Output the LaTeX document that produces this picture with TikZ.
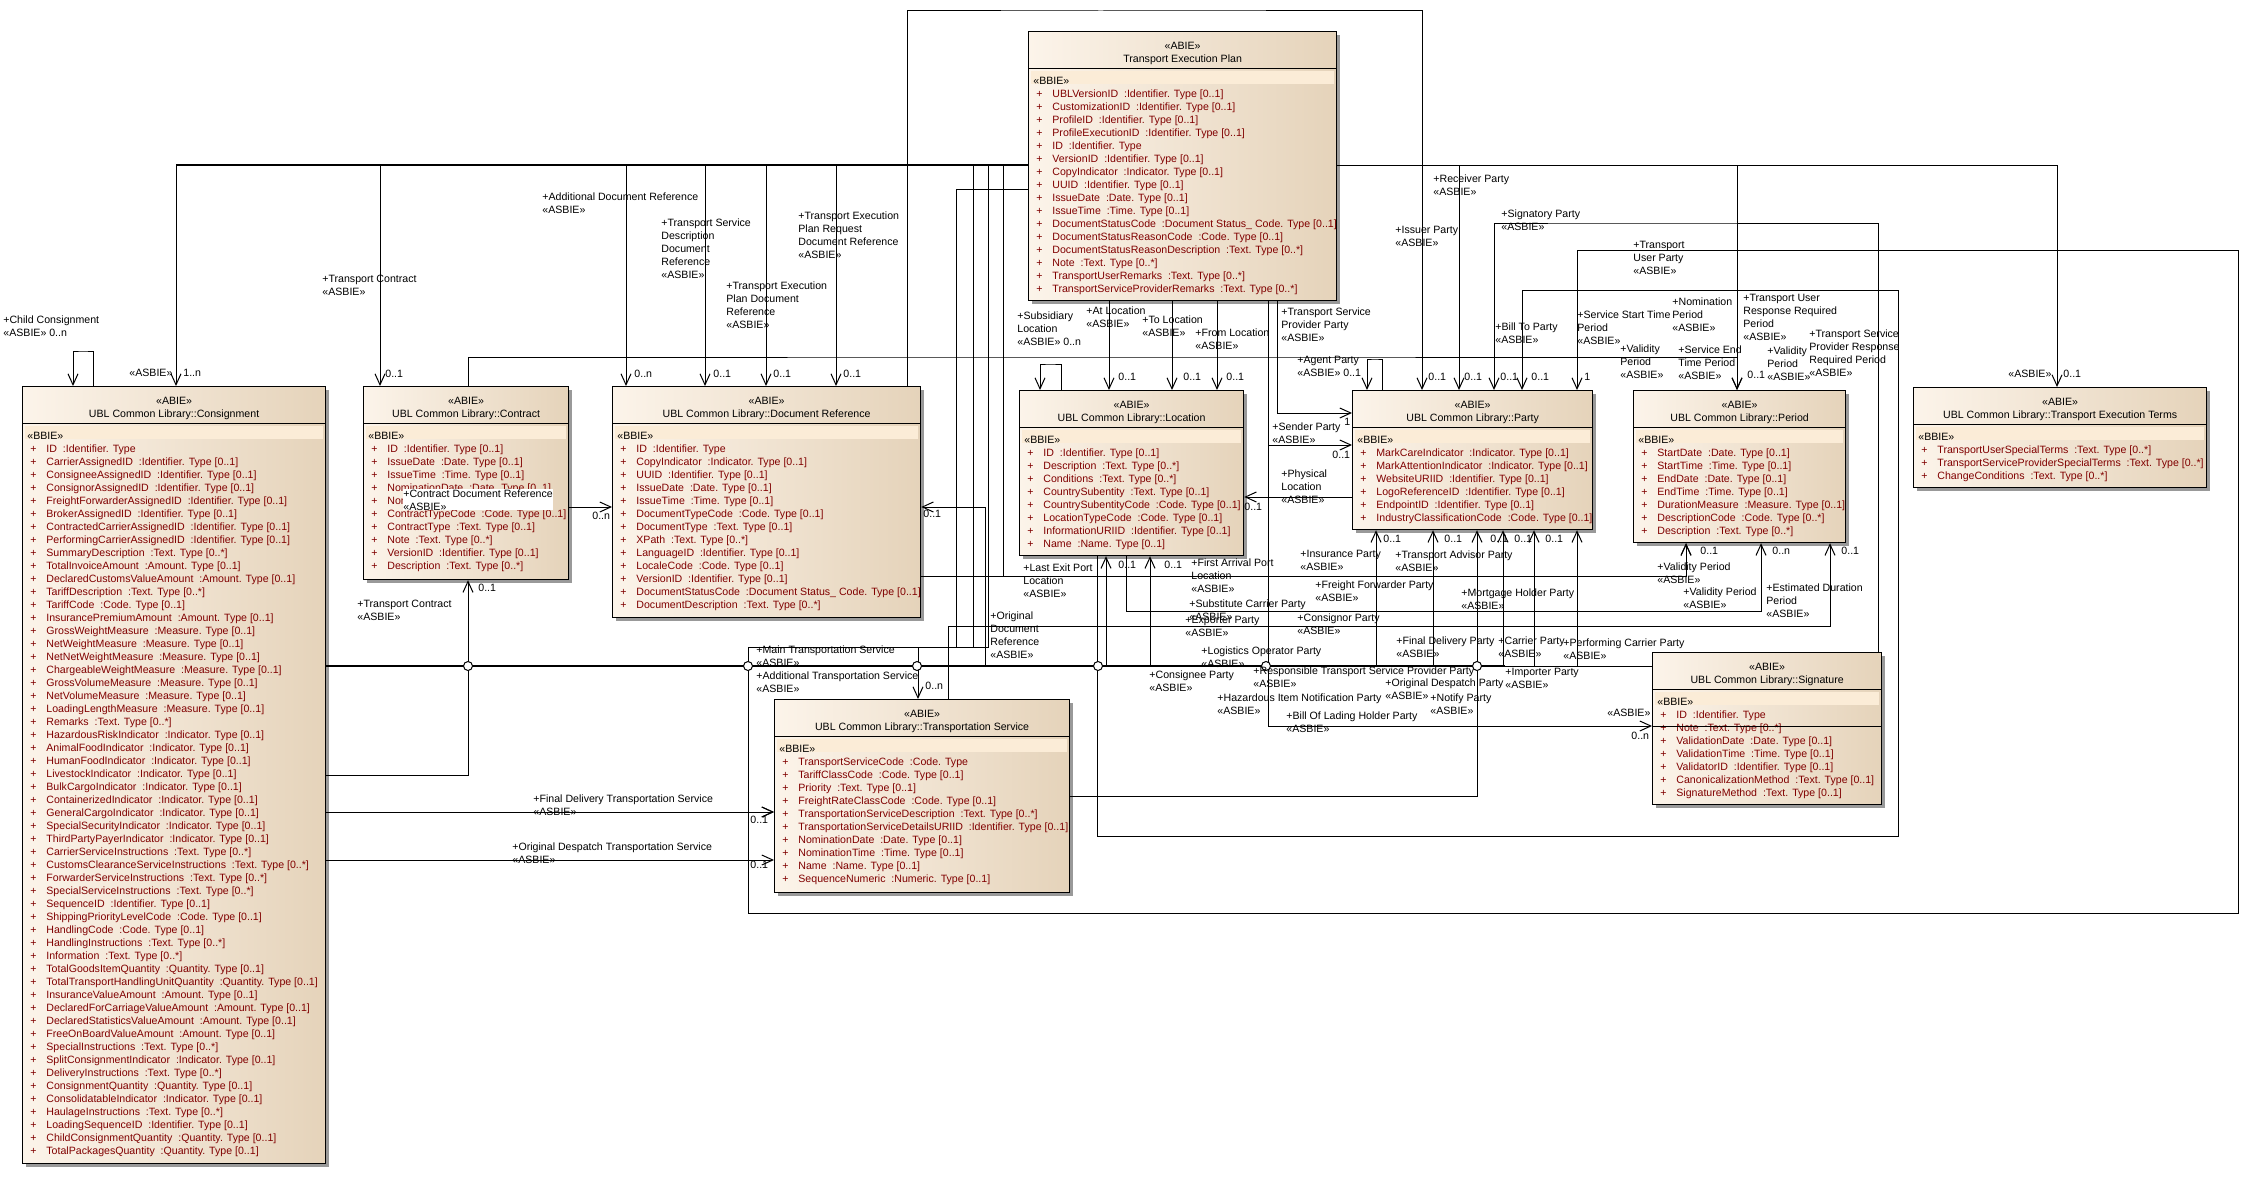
\documentclass[tikz,border=0pt]{standalone}
\usepackage{fontspec}
\setmainfont{Liberation Sans}
\usetikzlibrary{arrows.meta,calc,shadows}
\definecolor{clsleft}{RGB}{252,244,234}
\definecolor{clsright}{RGB}{229,211,186}
\definecolor{bandcol}{RGB}{251,236,215}
\definecolor{attrred}{RGB}{128,0,0}
\newcommand{\umlfont}{\fontsize{5.3}{6.5}\selectfont}
\newcommand{\ap}{\hspace*{1.5pt}\makebox[8pt][l]{+}}
% class box: name, left, top, width, height, title, attributes
\newcommand{\umlclass}[7]{%
  \node[clsbox, minimum width=#4*0.5pt, minimum height=#5*0.5pt] (#1) at (#2,#3) {};
  \draw ($(#1.north west)+(0,37)$) -- ($(#1.north east)+(0,37)$);
  \fill[bandcol] ($(#1.north west)+(3,40)$) rectangle ($(#1.north east)+(-3,53)$);
  \node[clshead] (#1-hd) at ($(#1.north)+(0,22)$) {«ABIE»\\#6};
  \node[clsattr] (#1-at) at ($(#1.north west)+(5,46)$) {\textcolor{black}{«BBIE»}\\#7};
}

\begin{document}
\begin{tikzpicture}[x=0.5pt,y=0.5pt,yscale=-1,
  clsbox/.style={draw=black,line width=0.6pt,left color=clsleft,right color=clsright,anchor=north west,inner sep=0pt,
    drop shadow={shadow xshift=1.8pt,shadow yshift=-1.8pt,fill=black!40,opacity=1}},
  clshead/.style={align=center,inner sep=0pt,font=\umlfont},
  clsattr/.style={anchor=north west,align=left,inner sep=0pt,font=\umlfont,text=attrred},
  lbl/.style={anchor=north west,align=left,inner sep=0pt,font=\umlfont},
  asc/.style={line width=0.5pt,-{Straight Barb[length=5.5pt,width=5pt]}},
  assoc/.style={line width=0.5pt},
  bus/.style={line width=1.3pt},
  hop/.style={line width=0.5pt,fill=white}]
\useasboundingbox (0,0) rectangle (2247,1193);

%Classes
\umlclass{tep}{1028}{31}{308}{269}{Transport Execution Plan}{%
\ap UBLVersionID~ :Identifier. Type [0..1]\\\ap CustomizationID~ :Identifier. Type [0..1]\\
\ap ProfileID~ :Identifier. Type [0..1]\\\ap ProfileExecutionID~ :Identifier. Type [0..1]\\
\ap ID~ :Identifier. Type\\\ap VersionID~ :Identifier. Type [0..1]\\
\ap CopyIndicator~ :Indicator. Type [0..1]\\\ap UUID~ :Identifier. Type [0..1]\\
\ap IssueDate~ :Date. Type [0..1]\\\ap IssueTime~ :Time. Type [0..1]\\
\ap DocumentStatusCode~ :Document Status\_ Code. Type [0..1]\\\ap DocumentStatusReasonCode~ :Code. Type [0..1]\\
\ap DocumentStatusReasonDescription~ :Text. Type [0..*]\\\ap Note~ :Text. Type [0..*]\\
\ap TransportUserRemarks~ :Text. Type [0..*]\\\ap TransportServiceProviderRemarks~ :Text. Type [0..*]}

\umlclass{cons}{22}{386}{303}{777}{UBL Common Library::Consignment}{%
\ap ID~ :Identifier. Type\\\ap CarrierAssignedID~ :Identifier. Type [0..1]\\
\ap ConsigneeAssignedID~ :Identifier. Type [0..1]\\\ap ConsignorAssignedID~ :Identifier. Type [0..1]\\
\ap FreightForwarderAssignedID~ :Identifier. Type [0..1]\\\ap BrokerAssignedID~ :Identifier. Type [0..1]\\
\ap ContractedCarrierAssignedID~ :Identifier. Type [0..1]\\\ap PerformingCarrierAssignedID~ :Identifier. Type [0..1]\\
\ap SummaryDescription~ :Text. Type [0..*]\\\ap TotalInvoiceAmount~ :Amount. Type [0..1]\\
\ap DeclaredCustomsValueAmount~ :Amount. Type [0..1]\\\ap TariffDescription~ :Text. Type [0..*]\\
\ap TariffCode~ :Code. Type [0..1]\\\ap InsurancePremiumAmount~ :Amount. Type [0..1]\\
\ap GrossWeightMeasure~ :Measure. Type [0..1]\\\ap NetWeightMeasure~ :Measure. Type [0..1]\\
\ap NetNetWeightMeasure~ :Measure. Type [0..1]\\\ap ChargeableWeightMeasure~ :Measure. Type [0..1]\\
\ap GrossVolumeMeasure~ :Measure. Type [0..1]\\\ap NetVolumeMeasure~ :Measure. Type [0..1]\\
\ap LoadingLengthMeasure~ :Measure. Type [0..1]\\\ap Remarks~ :Text. Type [0..*]\\
\ap HazardousRiskIndicator~ :Indicator. Type [0..1]\\\ap AnimalFoodIndicator~ :Indicator. Type [0..1]\\
\ap HumanFoodIndicator~ :Indicator. Type [0..1]\\\ap LivestockIndicator~ :Indicator. Type [0..1]\\
\ap BulkCargoIndicator~ :Indicator. Type [0..1]\\\ap ContainerizedIndicator~ :Indicator. Type [0..1]\\
\ap GeneralCargoIndicator~ :Indicator. Type [0..1]\\\ap SpecialSecurityIndicator~ :Indicator. Type [0..1]\\
\ap ThirdPartyPayerIndicator~ :Indicator. Type [0..1]\\\ap CarrierServiceInstructions~ :Text. Type [0..*]\\
\ap CustomsClearanceServiceInstructions~ :Text. Type [0..*]\\\ap ForwarderServiceInstructions~ :Text. Type [0..*]\\
\ap SpecialServiceInstructions~ :Text. Type [0..*]\\\ap SequenceID~ :Identifier. Type [0..1]\\
\ap ShippingPriorityLevelCode~ :Code. Type [0..1]\\\ap HandlingCode~ :Code. Type [0..1]\\
\ap HandlingInstructions~ :Text. Type [0..*]\\\ap Information~ :Text. Type [0..*]\\
\ap TotalGoodsItemQuantity~ :Quantity. Type [0..1]\\\ap TotalTransportHandlingUnitQuantity~ :Quantity. Type [0..1]\\
\ap InsuranceValueAmount~ :Amount. Type [0..1]\\\ap DeclaredForCarriageValueAmount~ :Amount. Type [0..1]\\
\ap DeclaredStatisticsValueAmount~ :Amount. Type [0..1]\\\ap FreeOnBoardValueAmount~ :Amount. Type [0..1]\\
\ap SpecialInstructions~ :Text. Type [0..*]\\\ap SplitConsignmentIndicator~ :Indicator. Type [0..1]\\
\ap DeliveryInstructions~ :Text. Type [0..*]\\\ap ConsignmentQuantity~ :Quantity. Type [0..1]\\
\ap ConsolidatableIndicator~ :Indicator. Type [0..1]\\\ap HaulageInstructions~ :Text. Type [0..*]\\
\ap LoadingSequenceID~ :Identifier. Type [0..1]\\\ap ChildConsignmentQuantity~ :Quantity. Type [0..1]\\
\ap TotalPackagesQuantity~ :Quantity. Type [0..1]}

\umlclass{contract}{363}{386}{205}{193}{UBL Common Library::Contract}{%
\ap ID~ :Identifier. Type [0..1]\\\ap IssueDate~ :Date. Type [0..1]\\
\ap IssueTime~ :Time. Type [0..1]\\\ap NominationDate~ :Date. Type [0..1]\\
\ap NominationTime~ :Time. Type [0..1]\\\ap ContractTypeCode~ :Code. Type [0..1]\\
\ap ContractType~ :Text. Type [0..1]\\\ap Note~ :Text. Type [0..*]\\
\ap VersionID~ :Identifier. Type [0..1]\\\ap Description~ :Text. Type [0..*]}

\umlclass{docref}{612}{386}{308}{231}{UBL Common Library::Document Reference}{%
\ap ID~ :Identifier. Type\\\ap CopyIndicator~ :Indicator. Type [0..1]\\
\ap UUID~ :Identifier. Type [0..1]\\\ap IssueDate~ :Date. Type [0..1]\\
\ap IssueTime~ :Time. Type [0..1]\\\ap DocumentTypeCode~ :Code. Type [0..1]\\
\ap DocumentType~ :Text. Type [0..1]\\\ap XPath~ :Text. Type [0..*]\\
\ap LanguageID~ :Identifier. Type [0..1]\\\ap LocaleCode~ :Code. Type [0..1]\\
\ap VersionID~ :Identifier. Type [0..1]\\\ap DocumentStatusCode~ :Document Status\_ Code. Type [0..1]\\
\ap DocumentDescription~ :Text. Type [0..*]}

\umlclass{location}{1019}{390}{224}{165}{UBL Common Library::Location}{%
\ap ID~ :Identifier. Type [0..1]\\\ap Description~ :Text. Type [0..*]\\
\ap Conditions~ :Text. Type [0..*]\\\ap CountrySubentity~ :Text. Type [0..1]\\
\ap CountrySubentityCode~ :Code. Type [0..1]\\\ap LocationTypeCode~ :Code. Type [0..1]\\
\ap InformationURIID~ :Identifier. Type [0..1]\\\ap Name~ :Name. Type [0..1]}

\umlclass{party}{1352}{390}{240}{139}{UBL Common Library::Party}{%
\ap MarkCareIndicator~ :Indicator. Type [0..1]\\\ap MarkAttentionIndicator~ :Indicator. Type [0..1]\\
\ap WebsiteURIID~ :Identifier. Type [0..1]\\\ap LogoReferenceID~ :Identifier. Type [0..1]\\
\ap EndpointID~ :Identifier. Type [0..1]\\\ap IndustryClassificationCode~ :Code. Type [0..1]}

\umlclass{period}{1633}{390}{212}{152}{UBL Common Library::Period}{%
\ap StartDate~ :Date. Type [0..1]\\\ap StartTime~ :Time. Type [0..1]\\
\ap EndDate~ :Date. Type [0..1]\\\ap EndTime~ :Time. Type [0..1]\\
\ap DurationMeasure~ :Measure. Type [0..1]\\\ap DescriptionCode~ :Code. Type [0..*]\\
\ap Description~ :Text. Type [0..*]}

\umlclass{terms}{1913}{387}{293}{100}{UBL Common Library::Transport Execution Terms}{%
\ap TransportUserSpecialTerms~ :Text. Type [0..*]\\
\ap TransportServiceProviderSpecialTerms~ :Text. Type [0..*]\\
\ap ChangeConditions~ :Text. Type [0..*]}

\umlclass{ts}{774}{699}{295}{193}{UBL Common Library::Transportation Service}{%
\ap TransportServiceCode~ :Code. Type\\\ap TariffClassCode~ :Code. Type [0..1]\\
\ap Priority~ :Text. Type [0..1]\\\ap FreightRateClassCode~ :Code. Type [0..1]\\
\ap TransportationServiceDescription~ :Text. Type [0..*]\\\ap TransportationServiceDetailsURIID~ :Identifier. Type [0..1]\\
\ap NominationDate~ :Date. Type [0..1]\\\ap NominationTime~ :Time. Type [0..1]\\
\ap Name~ :Name. Type [0..1]\\\ap SequenceNumeric~ :Numeric. Type [0..1]}

\umlclass{sig}{1652}{652}{229}{152}{UBL Common Library::Signature}{%
\ap ID~ :Identifier. Type\\\ap Note~ :Text. Type [0..*]\\
\ap ValidationDate~ :Date. Type [0..1]\\\ap ValidationTime~ :Time. Type [0..1]\\
\ap ValidatorID~ :Identifier. Type [0..1]\\\ap CanonicalizationMethod~ :Text. Type [0..1]\\
\ap SignatureMethod~ :Text. Type [0..1]}

%Associations of the plan
\draw[bus] (tep.west |- 0,165) -- (176,165);
\draw[asc] (tep.west |- 0,165) -| (176,0 |- cons.north);
\draw[asc] (tep.west |- 0,165) -| (380,0 |- contract.north);
\draw[asc] (tep.west |- 0,165) -| (626,0 |- docref.north);
\draw[asc] (tep.west |- 0,165) -| (705,0 |- docref.north);
\draw[asc] (tep.west |- 0,165) -| (766,0 |- docref.north);
\draw[asc] (tep.west |- 0,165) -| (836,0 |- docref.north);
\draw[asc] (tep.east |- 0,165) -| (1459,0 |- party.north);
\draw[asc] (1109,0 |- tep.south) -- (1109,0 |- location.north);
\draw[asc] (1172,0 |- tep.south) -- (1172,0 |- location.north);
\draw[asc] (1217,0 |- tep.south) -- (1217,0 |- location.north);
\draw[asc] (1277,0 |- tep.south) |- (party.west |- 0,413);
\draw[asc] (1268,0 |- tep.south) |- (party.west |- 0,445);
\draw[asc] (1268,0 |- tep.south) |- (sig.west |- 0,726);
\draw[assoc] (sig.west |- 0,726) -- (sig.east |- 0,726);
\draw[asc] (tep.east |- 0,165) -| (1737,0 |- period.north);
\draw[asc] (tep.east |- 0,165) -| (2057,0 |- terms.north);
\draw[asc] (tep.west |- 0,165) -| (973,647) -| (918,0 |- ts.north);
\draw[asc] (tep.west |- 0,165) -| (988,647) -| (748,812) -- (ts.west |- 0,812);
\draw[asc] (tep.west |- 0,165) -| (1003,576) -| (1686,0 |- period.south);
\draw[asc] (tep.west |- 0,189) -| (956,647) -| (748,913) -| (2238,250) -| (1577,0 |- party.north);

%Self associations
\draw[asc] (93,0 |- cons.north) |- (83,351) -| (73,0 |- cons.north);
\draw[asc] (1061,0 |- location.north) |- (1050,364) -| (1040,0 |- location.north);
\draw[asc] (1382,0 |- party.north) |- (1375,359) -| (1367,0 |- party.north);

%Other classes
\draw[asc] (907,0 |- docref.north) |- (1100,11) -| (1422,0 |- party.north);
\draw[asc] (468,0 |- contract.north) |- (1100,357) -| (1737,0 |- period.north);
\draw[asc] (contract.east |- 0,507) -- (docref.west |- 0,507);
\draw[asc] (party.west |- 0,497) -- (location.east |- 0,497);
\draw[asc] (1878,0 |- sig.north) |- (1600,223) -| (1494,0 |- party.north);
\draw[asc] (1097,0 |- location.south) |- (1898,836) |- (1522,290) -- (1522,0 |- party.north);
\draw[asc] (docref.east |- 0,576) -| (1686,0 |- period.south);
\draw[asc] (1126,0 |- location.south) |- (1761,611) -- (1761,0 |- period.south);
\draw[asc] (948,0 |- ts.north) |- (1830,626) -- (1830,0 |- period.south);
\draw[asc] (sig.west |- 0,666) -| (985,507) -- (docref.east |- 0,507);
\draw[asc] (ts.east |- 0,796) -| (1477,0 |- party.south);

%Associations of the consignment
\draw[bus] (cons.east |- 0,666) -- (1505,666);
\draw[asc] (cons.east |- 0,775) -| (468,0 |- contract.south);
\draw[asc] (cons.east |- 0,812) -- (ts.west |- 0,812);
\draw[asc] (cons.east |- 0,860) -- (ts.west |- 0,860);
\foreach \px in {1106,1150}
  \draw[asc] (cons.east |- 0,666) -| (\px,0 |- location.south);
\foreach \px in {1376,1433,1503,1534,1577}
  \draw[asc] (cons.east |- 0,666) -| (\px,0 |- party.south);
\foreach \px in {468,748,917,1098,1266,1477}
  \draw[hop] (\px,666) circle (4.5);

%Role names
\node[lbl] (l-child) at (3,315) {+Child Consignment\\«ASBIE» 0..n};
\node[lbl] (l-cons) at (129,369) {«ASBIE»};
\node[lbl] (m-cons) at (183,369) {1..n};
\node[lbl] (l-trc) at (322,275) {+Transport Contract\\«ASBIE»};
\node[lbl] (l-add) at (542,192) {+Additional Document Reference\\«ASBIE»};
\node[lbl] (l-tsd) at (661,218) {+Transport Service\\Description\\Document\\Reference\\«ASBIE»};
\node[lbl] (l-tepd) at (726,281) {+Transport Execution\\Plan Document\\Reference\\«ASBIE»};
\node[lbl] (l-tepr) at (798,211) {+Transport Execution\\Plan Request\\Document Reference\\«ASBIE»};
\node[lbl] (m-trc) at (385,370) {0..1};
\node[lbl] (m-add) at (634,370) {0..n};
\node[lbl] (m-tsd) at (713,370) {0..1};
\node[lbl] (m-tepd) at (773,370) {0..1};
\node[lbl] (m-tepr) at (843,370) {0..1};
\node[lbl,fill=white] (l-cdr) at (403,489) {+Contract Document Reference\\«ASBIE»};
\node[lbl] (m-cdr) at (592,512) {0..n};
\node[lbl] (l-trc2) at (357,600) {+Transport Contract\\«ASBIE»};
\node[lbl] (m-trc2) at (478,584) {0..1};
\node[lbl] (l-sub) at (1017,311) {+Subsidiary\\Location\\«ASBIE» 0..n};
\node[lbl] (l-at) at (1086,306) {+At Location\\«ASBIE»};
\node[lbl] (l-to) at (1142,315) {+To Location\\«ASBIE»};
\node[lbl] (l-from) at (1195,328) {+From Location\\«ASBIE»};
\node[lbl] (m-at) at (1118,373) {0..1};
\node[lbl] (m-to) at (1183,373) {0..1};
\node[lbl] (m-from) at (1226,373) {0..1};
\node[lbl] (l-tsp) at (1281,307) {+Transport Service\\Provider Party\\«ASBIE»};
\node[lbl] (l-agent) at (1297,356) {+Agent Party\\«ASBIE» 0..1};
\node[lbl] (l-issuer) at (1395,226) {+Issuer Party\\«ASBIE»};
\node[lbl] (l-recv) at (1433,174) {+Receiver Party\\«ASBIE»};
\node[lbl] (l-signat) at (1501,209) {+Signatory Party\\«ASBIE»};
\node[lbl] (m-p1) at (1428,373) {0..1};
\node[lbl] (m-p2) at (1464,373) {0..1};
\node[lbl] (m-p3) at (1500,373) {0..1};
\node[lbl] (m-p4) at (1531,373) {0..1};
\node[lbl] (m-p5) at (1584,373) {1};
\node[lbl] (l-tup) at (1633,241) {+Transport\\User Party\\«ASBIE»};
\node[lbl] (l-bill) at (1495,322) {+Bill To Party\\«ASBIE»};
\node[lbl] (l-sstp) at (1577,310) {+Service Start Time\\Period\\«ASBIE»};
\node[lbl] (l-nom) at (1672,297) {+Nomination\\Period\\«ASBIE»};
\node[lbl] (l-turp) at (1743,294) {+Transport User\\Response Required\\Period\\«ASBIE»};
\node[lbl] (l-tsprp) at (1809,329) {+Transport Service\\Provider Response\\Required Period\\«ASBIE»};
\node[lbl] (l-val1) at (1620,344) {+Validity\\Period\\«ASBIE»};
\node[lbl] (l-setp) at (1678,345) {+Service End\\Time Period\\«ASBIE»};
\node[lbl] (l-val2) at (1767,346) {+Validity\\Period\\«ASBIE»};
\node[lbl] (m-per) at (1747,371) {0..1};
\node[lbl] (l-terms) at (2008,370) {«ASBIE»};
\node[lbl] (m-terms) at (2063,370) {0..1};
\node[lbl] (l-sender) at (1272,422) {+Sender Party\\«ASBIE»};
\node[lbl] (m-tsp) at (1344,418) {1};
\node[lbl] (m-sender) at (1332,451) {0..1};
\node[lbl] (l-phys) at (1281,469) {+Physical\\Location\\«ASBIE»};
\node[lbl] (m-phys) at (1244,503) {0..1};
\foreach \px in {1383,1444,1490,1514,1545}
  \node[lbl] (m-pb\px) at (\px,535) {0..1};
\node[lbl] (l-ins) at (1300,550) {+Insurance Party\\«ASBIE»};
\node[lbl] (l-adv) at (1395,550) {+Transport Advisor Party\\«ASBIE»};
\node[lbl] (l-lexit) at (1023,563) {+Last Exit Port\\Location\\«ASBIE»};
\node[lbl] (m-lexit) at (1118,561) {0..1};
\node[lbl] (m-farr) at (1164,561) {0..1};
\node[lbl] (l-farr) at (1191,558) {+First Arrival Port\\Location\\«ASBIE»};
\node[lbl] (l-ff) at (1315,580) {+Freight Forwarder Party\\«ASBIE»};
\node[lbl] (l-mort) at (1461,588) {+Mortgage Holder Party\\«ASBIE»};
\node[lbl] (l-val3) at (1657,562) {+Validity Period\\«ASBIE»};
\node[lbl] (l-val4) at (1683,587) {+Validity Period\\«ASBIE»};
\node[lbl] (l-edp) at (1766,583) {+Estimated Duration\\Period\\«ASBIE»};
\node[lbl] (m-val3) at (1700,547) {0..1};
\node[lbl] (m-val4) at (1772,547) {0..n};
\node[lbl] (m-edp) at (1841,547) {0..1};
\node[lbl] (l-subc) at (1189,599) {+Substitute Carrier Party\\«ASBIE»};
\node[lbl] (l-exp) at (1185,616) {+Exporter Party\\«ASBIE»};
\node[lbl] (l-cnor) at (1297,613) {+Consignor Party\\«ASBIE»};
\node[lbl] (l-odr) at (990,611) {+Original\\Document\\Reference\\«ASBIE»};
\node[lbl] (m-odr) at (923,510) {0..1};
\node[lbl] (l-fdp) at (1396,636) {+Final Delivery Party\\«ASBIE»};
\node[lbl] (l-car) at (1498,636) {+Carrier Party\\«ASBIE»};
\node[lbl] (l-pcar) at (1563,638) {+Performing Carrier Party\\«ASBIE»};
\node[lbl] (l-log) at (1201,646) {+Logistics Operator Party\\«ASBIE»};
\node[lbl] (l-cnee) at (1149,670) {+Consignee Party\\«ASBIE»};
\node[lbl] (l-rtsp) at (1253,666) {+Responsible Transport Service Provider Party\\«ASBIE»};
\node[lbl] (l-odp) at (1385,678) {+Original Despatch Party\\«ASBIE»};
\node[lbl] (l-imp) at (1505,668) {+Importer Party\\«ASBIE»};
\node[lbl] (l-haz) at (1217,693) {+Hazardous Item Notification Party\\«ASBIE»};
\node[lbl] (l-notify) at (1430,693) {+Notify Party\\«ASBIE»};
\node[lbl] (l-bol) at (1286,711) {+Bill Of Lading Holder Party\\«ASBIE»};
\node[lbl] (l-sig) at (1607,709) {«ASBIE»};
\node[lbl] (m-sig) at (1631,732) {0..n};
\node[lbl] (l-main) at (756,645) {+Main Transportation Service\\«ASBIE»};
\node[lbl] (l-addts) at (756,671) {+Additional Transportation Service\\«ASBIE»};
\node[lbl] (m-addts) at (925,682) {0..n};
\node[lbl] (l-fdts) at (533,794) {+Final Delivery Transportation Service\\«ASBIE»};
\node[lbl] (l-odts) at (512,842) {+Original Despatch Transportation Service\\«ASBIE»};
\node[lbl] (m-fdts) at (750,816) {0..1};
\node[lbl] (m-odts) at (750,861) {0..1};
\end{tikzpicture}
\end{document}
